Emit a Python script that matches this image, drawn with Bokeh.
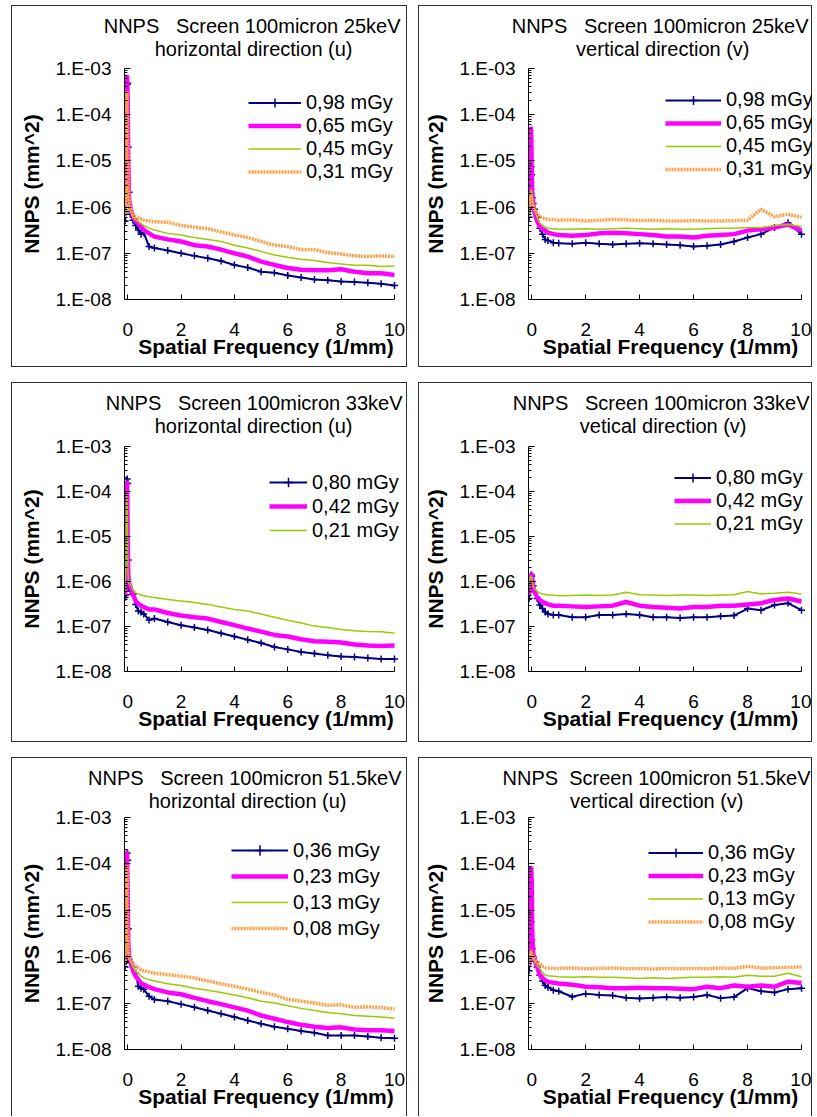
from bokeh.plotting import figure
from bokeh.models import (Range1d, FixedTicker, CustomJSTickFormatter, Legend,
                          LegendItem, Title, Spacer)
from bokeh.layouts import row, column
from bokeh.embed import file_html
from bokeh.resources import INLINE

# ---------------- data (spatial frequency in 1/mm, NNPS in mm^2) ----------------
FREQ = [-0.1, -0.07, -0.04, -0.02, 0.0, 0.02, 0.05, 0.1,
        0.2, 0.3, 0.4, 0.5, 0.6, 0.8, 1.0,
        1.5, 2.0, 2.5, 3.0, 3.5, 4.0, 4.5, 5.0, 5.5, 6.0, 6.5, 7.0, 7.5, 8.0, 8.5, 9.0, 9.5, 10.0]

# 25 keV, horizontal (u)
U25_098 = [5e-7, 8e-7, 1.5e-5, 4.5e-4, 4.8e-4, 2e-5, 2.1e-6, 7e-7,
           5.2e-7, 4e-7, 3.2e-7, 2.6e-7, 2.8e-7, 1.4e-7, 1.3e-7,
           1.15e-7, 1.0e-7, 8.8e-8, 7.8e-8, 6.8e-8, 5.6e-8, 4.9e-8, 4.0e-8, 3.8e-8, 3.3e-8, 3.0e-8, 2.7e-8, 2.6e-8, 2.45e-8, 2.4e-8, 2.3e-8, 2.2e-8, 2.0e-8]
U25_065 = [1e-6, 1.5e-5, 7e-4, 6.5e-4, 2e-4, 1e-5, 1.5e-6, 1e-6,
           6.1e-7, 5e-7, 4.4e-7, 3.8e-7, 3.2e-7, 2.7e-7, 2.3e-7,
           2.0e-7, 1.8e-7, 1.5e-7, 1.4e-7, 1.2e-7, 1.0e-7, 8.5e-8, 6.6e-8, 5.6e-8, 4.8e-8, 4.4e-8, 4.3e-8, 4.3e-8, 4.5e-8, 4.0e-8, 3.7e-8, 3.7e-8, 3.4e-8]
U25_045 = [7e-7, 1e-6, 2e-6, 3e-6, 2.5e-6, 1.5e-6, 9e-7, 8e-7,
           6e-7, 5.2e-7, 4.8e-7, 4.4e-7, 4e-7, 3.5e-7, 3.2e-7,
           2.7e-7, 2.5e-7, 2.2e-7, 2.0e-7, 1.8e-7, 1.5e-7, 1.3e-7, 1.1e-7, 9.2e-8, 8.2e-8, 7.4e-8, 7.0e-8, 6.3e-8, 5.9e-8, 5.5e-8, 5.5e-8, 5.2e-8, 5.3e-8]
U25_031 = [6e-7, 3e-6, 3.2e-4, 2.5e-4, 3e-5, 5e-6, 1.5e-6, 1e-6,
           7e-7, 6.1e-7, 5.8e-7, 5.5e-7, 5.2e-7, 5e-7, 4.8e-7,
           4.7e-7, 4.0e-7, 3.7e-7, 3.4e-7, 2.9e-7, 2.5e-7, 2.2e-7, 1.8e-7, 1.5e-7, 1.4e-7, 1.2e-7, 1.2e-7, 1.03e-7, 9.7e-8, 8.8e-8, 8.5e-8, 8.8e-8, 8.5e-8]

# 25 keV, vertical (v)
V25_098 = [6e-7, 9e-7, 2e-6, 7.5e-6, 5e-6, 1.6e-6, 1.2e-6, 9e-7,
           6e-7, 3.5e-7, 2.6e-7, 2.0e-7, 1.9e-7, 1.7e-7, 1.65e-7,
           1.6e-7, 1.7e-7, 1.6e-7, 1.55e-7, 1.6e-7, 1.65e-7, 1.6e-7, 1.55e-7, 1.5e-7, 1.4e-7, 1.45e-7, 1.55e-7, 1.8e-7, 2.2e-7, 2.6e-7, 3.6e-7, 4.6e-7, 2.6e-7]
V25_065 = [1e-6, 8e-6, 5.5e-5, 4e-5, 6e-6, 2e-6, 1.2e-6, 8e-7,
           5e-7, 3.8e-7, 3.3e-7, 3.1e-7, 2.8e-7, 2.6e-7, 2.5e-7,
           2.4e-7, 2.5e-7, 2.7e-7, 2.8e-7, 2.7e-7, 2.6e-7, 2.5e-7, 2.3e-7, 2.3e-7, 2.2e-7, 2.4e-7, 2.5e-7, 2.6e-7, 3.1e-7, 3.3e-7, 3.6e-7, 4.2e-7, 3.1e-7]
V25_045 = [6e-7, 1e-6, 2e-6, 2.4e-6, 2.2e-6, 1.5e-6, 1.1e-6, 9e-7,
           6e-7, 4.5e-7, 4e-7, 3.7e-7, 3.5e-7, 3.4e-7, 3.3e-7,
           3.3e-7, 3.4e-7, 3.3e-7, 3.4e-7, 3.5e-7, 3.4e-7, 3.3e-7, 3.4e-7, 3.3e-7, 3.3e-7, 3.4e-7, 3.5e-7, 3.5e-7, 3.6e-7, 3.6e-7, 4e-7, 4.2e-7, 3.8e-7]
V25_031 = [1e-6, 1.5e-6, 1.8e-6, 1.7e-6, 1.6e-6, 1.3e-6, 1.1e-6, 9e-7,
           7e-7, 6.2e-7, 5.8e-7, 5.6e-7, 5.4e-7, 5.3e-7, 5.2e-7,
           5.3e-7, 5.0e-7, 5.2e-7, 5.4e-7, 5.3e-7, 5.1e-7, 5.2e-7, 5.0e-7, 5.0e-7, 5.1e-7, 5.0e-7, 5.0e-7, 5.1e-7, 5.2e-7, 9e-7, 6.2e-7, 7e-7, 6e-7]

# 33 keV, horizontal (u)
U33_080 = [4.4e-7, 5e-7, 8e-7, 1.9e-4, 1.5e-4, 3e-6, 7e-7, 6.1e-7,
           5.2e-7, 3.1e-7, 2.2e-7, 2.1e-7, 1.9e-7, 1.4e-7, 1.5e-7,
           1.26e-7, 1.07e-7, 9.5e-8, 8.4e-8, 7.1e-8, 6.0e-8, 5.1e-8, 4.3e-8, 3.5e-8, 3.1e-8, 2.7e-8, 2.5e-8, 2.3e-8, 2.15e-8, 2.1e-8, 2.0e-8, 1.9e-8, 1.9e-8]
U33_042 = [5e-7, 4.4e-6, 1.7e-4, 1.5e-4, 8e-6, 1.5e-6, 9e-7, 7.8e-7,
           5e-7, 3.7e-7, 3.2e-7, 2.9e-7, 2.7e-7, 2.4e-7, 2.4e-7,
           2.0e-7, 1.75e-7, 1.6e-7, 1.5e-7, 1.26e-7, 1.07e-7, 9e-8, 7.7e-8, 6.5e-8, 6e-8, 5.2e-8, 4.7e-8, 4.6e-8, 4.4e-8, 4e-8, 3.8e-8, 3.7e-8, 3.8e-8]
U33_021 = [6e-7, 2e-6, 8.8e-5, 5e-5, 3e-6, 1.2e-6, 9e-7, 8.5e-7,
           6.5e-7, 5.6e-7, 5.3e-7, 5e-7, 4.8e-7, 4.6e-7, 4.4e-7,
           4e-7, 3.7e-7, 3.4e-7, 3.1e-7, 2.7e-7, 2.4e-7, 2.2e-7, 1.9e-7, 1.6e-7, 1.37e-7, 1.2e-7, 1.02e-7, 9.5e-8, 8.6e-8, 8e-8, 7.7e-8, 7.6e-8, 7.1e-8]

# 33 keV, vertical (v)
V33_080 = [4.2e-7, 6e-7, 1e-6, 1.4e-6, 1.3e-6, 1e-6, 8e-7, 6e-7,
           4.2e-7, 3e-7, 2.5e-7, 2.1e-7, 1.9e-7, 1.8e-7, 1.8e-7,
           1.6e-7, 1.6e-7, 1.8e-7, 1.8e-7, 1.9e-7, 1.8e-7, 1.6e-7, 1.6e-7, 1.55e-7, 1.6e-7, 1.6e-7, 1.7e-7, 1.75e-7, 2.5e-7, 2.3e-7, 3e-7, 3.3e-7, 2.3e-7]
V33_042 = [5e-7, 8e-7, 1.2e-6, 1.5e-6, 1.4e-6, 1.1e-6, 8e-7, 6e-7,
           4.5e-7, 3.9e-7, 3.5e-7, 3.3e-7, 3.1e-7, 2.9e-7, 2.9e-7,
           2.8e-7, 2.7e-7, 2.8e-7, 2.9e-7, 3.5e-7, 2.9e-7, 2.7e-7, 2.6e-7, 2.5e-7, 2.7e-7, 2.7e-7, 2.9e-7, 2.9e-7, 3.1e-7, 3.3e-7, 3.9e-7, 4.2e-7, 3.6e-7]
V33_021 = [7e-7, 1e-6, 1.3e-6, 1.3e-6, 1.2e-6, 1e-6, 8e-7, 7e-7,
           6e-7, 5.5e-7, 5.3e-7, 5.2e-7, 5e-7, 5e-7, 4.8e-7,
           4.9e-7, 5e-7, 4.9e-7, 5e-7, 5.8e-7, 5.1e-7, 5e-7, 4.9e-7, 5e-7, 5e-7, 4.9e-7, 5e-7, 5.1e-7, 6e-7, 5.3e-7, 5.5e-7, 5.8e-7, 5.3e-7]

# 51.5 keV, horizontal (u)
U51_036 = [6e-7, 8e-7, 3e-6, 1.7e-4, 1.2e-4, 4e-6, 8.5e-7, 7.5e-7,
           6e-7, 4.4e-7, 2.3e-7, 2.1e-7, 2e-7, 1.4e-7, 1.2e-7,
           1.1e-7, 9.5e-8, 8.1e-8, 6.9e-8, 5.9e-8, 5e-8, 4.2e-8, 3.6e-8, 3.1e-8, 2.8e-8, 2.5e-8, 2.3e-8, 2.0e-8, 2.0e-8, 2.0e-8, 1.9e-8, 1.8e-8, 1.75e-8]
U51_023 = [8e-7, 4.3e-6, 1.9e-4, 1.2e-4, 2e-5, 2e-6, 1e-6, 8.5e-7,
           5e-7, 3.8e-7, 3.2e-7, 2.7e-7, 2.5e-7, 2.2e-7, 2.0e-7,
           1.7e-7, 1.55e-7, 1.3e-7, 1.1e-7, 9.5e-8, 8.1e-8, 6.9e-8, 5.4e-8, 4.6e-8, 3.9e-8, 3.4e-8, 3.1e-8, 2.9e-8, 3.0e-8, 2.7e-8, 2.6e-8, 2.6e-8, 2.5e-8]
U51_013 = [6e-7, 1.5e-6, 6e-6, 5e-6, 2e-6, 1.2e-6, 9e-7, 8.5e-7,
           6e-7, 4.8e-7, 4.3e-7, 3.8e-7, 3.5e-7, 3.2e-7, 3e-7,
           2.6e-7, 2.4e-7, 2.1e-7, 1.9e-7, 1.7e-7, 1.5e-7, 1.3e-7, 1.1e-7, 1e-7, 8.8e-8, 7.7e-8, 6.9e-8, 6.3e-8, 5.9e-8, 5.4e-8, 5.2e-8, 5e-8, 4.7e-8]
U51_008 = [8e-7, 3e-6, 9.4e-5, 6e-5, 4e-6, 1.5e-6, 1e-6, 8.5e-7,
           7e-7, 6.2e-7, 5.7e-7, 5.2e-7, 5e-7, 4.7e-7, 4.4e-7,
           4.1e-7, 3.8e-7, 3.5e-7, 3e-7, 2.6e-7, 2.3e-7, 2e-7, 1.7e-7, 1.5e-7, 1.2e-7, 1.1e-7, 1e-7, 9e-8, 9.2e-8, 8.1e-8, 8.3e-8, 8e-8, 7.5e-8]

# 51.5 keV, vertical (v)
V51_036 = [5e-7, 1e-6, 3e-6, 5.7e-6, 2.3e-6, 1.5e-6, 1e-6, 8e-7,
           6e-7, 4e-7, 3e-7, 2.4e-7, 2.2e-7, 1.9e-7, 1.8e-7,
           1.37e-7, 1.6e-7, 1.5e-7, 1.45e-7, 1.3e-7, 1.26e-7, 1.3e-7, 1.35e-7, 1.3e-7, 1.35e-7, 1.5e-7, 1.28e-7, 1.35e-7, 2.1e-7, 1.8e-7, 1.7e-7, 2.0e-7, 2.1e-7]
V51_023 = [6e-7, 1e-6, 3e-5, 8.8e-5, 4e-5, 3e-6, 1.2e-6, 9e-7,
           6e-7, 4e-7, 3.5e-7, 3.1e-7, 2.9e-7, 2.75e-7, 2.65e-7,
           2.5e-7, 2.25e-7, 2.2e-7, 2.1e-7, 2.1e-7, 2.15e-7, 2.1e-7, 2.1e-7, 2.05e-7, 2.0e-7, 2.25e-7, 2.1e-7, 2.4e-7, 2.25e-7, 2.4e-7, 2.25e-7, 2.9e-7, 2.7e-7]
V51_013 = [6e-7, 1e-6, 1.3e-6, 1.4e-6, 1.3e-6, 1.1e-6, 9e-7, 8e-7,
           6.5e-7, 5.6e-7, 4.6e-7, 4e-7, 3.9e-7, 3.8e-7, 3.7e-7,
           3.6e-7, 3.7e-7, 3.6e-7, 3.6e-7, 3.5e-7, 3.4e-7, 3.5e-7, 3.4e-7, 3.5e-7, 3.6e-7, 3.6e-7, 3.7e-7, 3.6e-7, 4e-7, 3.8e-7, 3.8e-7, 4.4e-7, 3.7e-7]
V51_008 = [9e-7, 1.1e-6, 1.2e-6, 1.2e-6, 1.15e-6, 1.1e-6, 1e-6, 9e-7,
           7.8e-7, 7.2e-7, 6.2e-7, 5.8e-7, 5.7e-7, 5.6e-7, 5.6e-7,
           5.7e-7, 5.5e-7, 5.6e-7, 5.7e-7, 5.5e-7, 5.6e-7, 5.4e-7, 5.6e-7, 5.5e-7, 5.6e-7, 5.5e-7, 5.7e-7, 5.6e-7, 6.2e-7, 5.7e-7, 5.8e-7, 5.9e-7, 6.0e-7]

Y_TICKS = [1e-8, 1e-7, 1e-6, 1e-5, 1e-4, 1e-3]
X_TICKS = [0, 2, 4, 6, 8, 10]

# ---------------- styles / layout ----------------
NAVY, MAGENTA, GREEN, ORANGE = "#000080", "#FF00FF", "#99CC00", "#FF9F45"
FONT = "Liberation Sans"
X0 = -0.12
SP = "\u00a0"   # keeps the repeated spaces of the titles

# frame geometry shared by each row / column (Bokeh aligns frames in rows and columns)
ROW_TOP = [63, 64, 60]          # frame top, px from the box top
ROW_BOTTOM = [294, 289, 292]    # frame bottom, px from the box top
COL_AXIS0 = [116, 113]          # x = 0, px from the box left
X10_PX = 383                    # x = 10, px from the box left
HB = [364, 362, 360]            # box heights (last row runs to the page bottom)
WB = [398, 396]                 # box widths
PAGE_LEFT, PAGE_TOP, COL_GAP, ROW_GAP = 11, 5, 11, 13

# other positions are in pixels relative to each panel's box (border line = 0)
PANELS = [
    dict(t1="NNPS" + SP + SP + " Screen 100micron 25keV", t2="horizontal direction (u)",
         series=[("0,98 mGy", U25_098, "navy"), ("0,65 mGy", U25_065, "magenta"),
                 ("0,45 mGy", U25_045, "green"), ("0,31 mGy", U25_031, "orange")],
         t1r=389, t2r=341, lx=237, lc=98, lh=23, gw=53),
    dict(t1="NNPS" + SP + SP + " Screen 100micron 25keV", t2="vertical direction (v)",
         series=[("0,98 mGy", V25_098, "navy"), ("0,65 mGy", V25_065, "magenta"),
                 ("0,45 mGy", V25_045, "green"), ("0,31 mGy", V25_031, "orange")],
         t1r=390, t2r=331, lx=247, lc=98, lh=22, gw=56),
    dict(t1="NNPS" + SP + SP + " Screen 100micron 33keV", t2="horizontal direction (u)",
         series=[("0,80 mGy", U33_080, "navy"), ("0,42 mGy", U33_042, "magenta"),
                 ("0,21 mGy", U33_021, "green")],
         t1r=391, t2r=341, lx=258, lc=100, lh=24, gw=38),
    dict(t1="NNPS" + SP + SP + " Screen 100micron 33keV", t2="vetical direction (v)",
         series=[("0,80 mGy", V33_080, "navy"), ("0,42 mGy", V33_042, "magenta"),
                 ("0,21 mGy", V33_021, "green")],
         t1r=391, t2r=328, lx=256, lc=96, lh=23, gw=37),
    dict(t1="NNPS" + SP + SP + " Screen 100micron 51.5keV", t2="horizontal direction (u)",
         series=[("0,36 mGy", U51_036, "navy"), ("0,23 mGy", U51_023, "magenta"),
                 ("0,13 mGy", U51_013, "green"), ("0,08 mGy", U51_008, "orange")],
         t1r=390, t2r=335, lx=220, lc=93, lh=26, gw=57),
    dict(t1="NNPS" + SP + " Screen 100micron 51.5keV", t2="vertical direction (v)",
         series=[("0,36 mGy", V51_036, "navy"), ("0,23 mGy", V51_023, "magenta"),
                 ("0,13 mGy", V51_013, "green"), ("0,08 mGy", V51_008, "orange")],
         t1r=392, t2r=325, lx=230, lc=96, lh=23, gw=55),
]

Y_FMT = CustomJSTickFormatter(code="""
const e = Math.round(Math.log10(tick));
const a = Math.abs(e);
return "1.E" + (e < 0 ? "-" : "+") + (a < 10 ? "0" : "") + a;
""")


def make_panel(cfg, r, c):
    last_row = (r == len(HB) - 1)
    # content size (1px CSS border around the canvas; the last row is cut by the page bottom)
    W = WB[c] - 2
    H = HB[r] - (1 if last_row else 2)
    FL = COL_AXIS0[c] - 3 - 1           # frame left (x = X0)
    X10 = X10_PX - 1                    # pixel of x = 10
    FR = W - 1                          # frame right
    FT = ROW_TOP[r] - 1
    FB = ROW_BOTTOM[r] - 1
    FH = FB - FT
    ppu = (X10 - FL) / (10 - X0)
    X1 = 10 + (FR - X10) / ppu

    border = "1px solid #303030"
    styles = {"border": border}
    if last_row:
        styles = {"border-top": border, "border-left": border, "border-right": border}

    p = figure(width=W, height=H, x_range=Range1d(X0, X1), y_range=Range1d(1e-8, 1e-3),
               y_axis_type="log", output_backend="svg", toolbar_location=None,
               min_border_left=FL, min_border_right=W - FR,
               min_border_top=FT, min_border_bottom=H - FB,
               background_fill_color="white", border_fill_color="white",
               outline_line_color=None, styles=styles)
    p.grid.visible = False

    # axes
    p.xaxis.ticker = FixedTicker(ticks=X_TICKS, minor_ticks=[])
    p.xaxis.bounds = (X0, 10)
    p.yaxis.ticker = FixedTicker(ticks=Y_TICKS,
                                 minor_ticks=[m * t for t in Y_TICKS[:-1] for m in range(2, 10)])
    p.yaxis.formatter = Y_FMT
    for ax in (p.xaxis[0], p.yaxis[0]):
        ax.axis_line_color = "black"
        ax.major_tick_line_color = "black"
        ax.minor_tick_line_color = "black"
        ax.major_tick_out = 0
        ax.minor_tick_out = 0
        ax.major_label_text_font = FONT
        ax.major_label_text_font_size = "19px"
        ax.major_label_text_color = "black"
        ax.axis_label_text_font = FONT
        ax.axis_label_text_font_size = "21px"
        ax.axis_label_text_font_style = "bold"
        ax.axis_label_text_color = "black"
    p.xaxis.major_tick_in = 5
    p.yaxis.major_tick_in = 6
    p.yaxis.minor_tick_in = 3
    p.xaxis.major_label_standoff = 23
    p.xaxis.axis_label_standoff = -4
    p.yaxis.major_label_standoff = 13
    p.yaxis.axis_label_standoff = 10
    p.xaxis.axis_label = "Spatial Frequency (1/mm)"
    p.yaxis.axis_label = "NNPS (mm^2)"

    # series
    items = []
    for label, vals, kind in cfg["series"]:
        if kind == "navy":
            r1 = p.line(FREQ, vals, line_color=NAVY, line_width=2)
            r2 = p.scatter(FREQ, vals, marker="cross", size=7, line_color=NAVY, line_width=1.5)
            rs = [r1, r2]
        elif kind == "magenta":
            rs = [p.line(FREQ, vals, line_color=MAGENTA, line_width=4.5)]
        elif kind == "green":
            rs = [p.line(FREQ, vals, line_color=GREEN, line_width=1.5)]
        else:
            rs = [p.line(FREQ, vals, line_color=ORANGE, line_width=3.5, line_dash="2 1")]
        items.append(LegendItem(label=label, renderers=rs))

    n = len(items)
    lh = cfg["lh"]
    d = (cfg["lc"] - 1) - lh / 2.0 - FT
    legend = Legend(items=items, location=(cfg["lx"] - 1 - FL, int(round(FH - d - n * lh))),
                    glyph_width=cfg["gw"], glyph_height=lh, label_height=lh,
                    label_standoff=5, spacing=0, padding=0, margin=0,
                    border_line_alpha=0, background_fill_alpha=0,
                    label_text_font=FONT, label_text_font_size="20px",
                    label_text_color="black")
    p.add_layout(legend)

    # two title lines, right-aligned, stacked above the frame (nearest first)
    s2 = max(0, int(round(2 * (FT - 11.5 - 42))))
    p.add_layout(Title(text=cfg["t2"], align="right", offset=FR - (cfg["t2r"] - 1),
                       standoff=s2, text_font=FONT, text_font_size="20px",
                       text_font_style="normal", text_color="black"), "above")
    p.add_layout(Title(text=cfg["t1"], align="right", offset=FR - (cfg["t1r"] - 1),
                       standoff=-s2 - 1, text_font=FONT, text_font_size="20px",
                       text_font_style="normal", text_color="black"), "above")
    return p


figs = [make_panel(cfg, i // 2, i % 2) for i, cfg in enumerate(PANELS)]
rows = [row(figs[2 * k], Spacer(width=COL_GAP, height=HB[k]), figs[2 * k + 1], spacing=0)
        for k in range(3)]
grid = column(Spacer(width=10, height=PAGE_TOP), rows[0],
              Spacer(width=10, height=ROW_GAP), rows[1],
              Spacer(width=10, height=ROW_GAP), rows[2], spacing=0)
layout = row(Spacer(width=PAGE_LEFT, height=10), grid, spacing=0)

open("out.html", "w").write(file_html(layout, INLINE, title="NNPS"))
